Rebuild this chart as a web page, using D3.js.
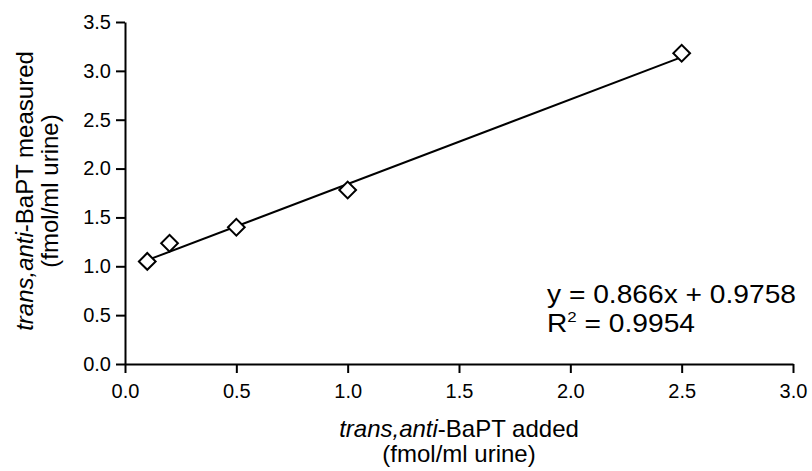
<!DOCTYPE html>
<html>
<head>
<meta charset="utf-8">
<script src="https://cdn.jsdelivr.net/npm/d3@7"></script>
<style>
  body { margin: 0; background: #fff; }
  svg { font-family: "Liberation Sans", Arial, sans-serif; }
</style>
</head>
<body>
<svg width="812" height="471"></svg>
<script>
var added = [0.1, 0.2, 0.5, 1.0, 2.5];
var measured = [1.05, 1.235, 1.40, 1.78, 3.18];
var slope = 0.866, intercept = 0.9758;
var xTicks = [0, 0.5, 1.0, 1.5, 2.0, 2.5, 3.0];
var yTicks = [0, 0.5, 1.0, 1.5, 2.0, 2.5, 3.0, 3.5];

var svg = d3.select("svg");
var mLeft = 125, mRight = 793, mTop = 22, mBottom = 364;

var x = d3.scaleLinear().domain([0, 3]).range([mLeft, mRight]);
var y = d3.scaleLinear().domain([0, 3.5]).range([mBottom, mTop]);

var xAxis = svg.append("g")
    .attr("transform", "translate(0," + mBottom + ")")
    .call(d3.axisBottom(x).tickValues(xTicks).tickSize(9).tickSizeOuter(0).tickFormat(d3.format(".1f")));
var yAxis = svg.append("g")
    .attr("transform", "translate(" + mLeft + ",0)")
    .call(d3.axisLeft(y).tickValues(yTicks).tickSize(9).tickSizeOuter(0).tickFormat(d3.format(".1f")));

[xAxis, yAxis].forEach(function(a) {
  a.selectAll("path, line").attr("stroke", "#000").attr("stroke-width", 2);
  a.selectAll("text").style("font-size", "20px").attr("fill", "#000");
});
xAxis.selectAll("text").attr("dy", "22px");
yAxis.selectAll("text").attr("dx", "-0.1em");

// trend line
svg.append("line")
    .attr("x1", x(0.1)).attr("y1", y(slope * 0.1 + intercept))
    .attr("x2", x(2.5)).attr("y2", y(slope * 2.5 + intercept))
    .attr("stroke", "#000").attr("stroke-width", 2);

// points
svg.selectAll(".pt")
    .data(added)
  .enter().append("path")
    .attr("class", "pt")
    .attr("d", d3.symbol().type(d3.symbolSquare).size(140))
    .attr("transform", function(d, i) { return "translate(" + x(d) + "," + y(measured[i]) + ") rotate(45)"; })
    .attr("fill", "#fff").attr("stroke", "#000").attr("stroke-width", 2);

// equation (a bit wider than the font, like the original)
var eqG = svg.append("g").attr("transform", "translate(547,0) scale(1.127,1)");
eqG.append("text").attr("x", 0).attr("y", 303).style("font-size", "25px")
    .text("y = 0.866x + 0.9758");
var r2 = eqG.append("text").attr("x", 0).attr("y", 332).style("font-size", "25px");
r2.append("tspan").text("R");
r2.append("tspan").attr("dy", -10).style("font-size", "15px").text("2");
r2.append("tspan").attr("dy", 10).text(" = 0.9954");

// x title
var cx = (mLeft + mRight) / 2;
var xt = svg.append("text").attr("x", cx).attr("y", 437).attr("text-anchor", "middle").style("font-size", "24px");
xt.append("tspan").style("font-style", "italic").text("trans,anti");
xt.append("tspan").text("-BaPT added");
svg.append("text").attr("x", cx).attr("y", 462).attr("text-anchor", "middle").style("font-size", "24px")
    .text("(fmol/ml urine)");

// y title
var cy = (mTop + mBottom) / 2;
var yt = svg.append("text").attr("transform", "translate(33," + (cy - 2) + ") rotate(-90)")
    .attr("text-anchor", "middle").style("font-size", "24px");
yt.append("tspan").style("font-style", "italic").text("trans,anti");
yt.append("tspan").text("-BaPT measured");
svg.append("text").attr("transform", "translate(58," + (cy - 2) + ") rotate(-90)")
    .attr("text-anchor", "middle").style("font-size", "24px")
    .text("(fmol/ml urine)");
</script>
</body>
</html>
